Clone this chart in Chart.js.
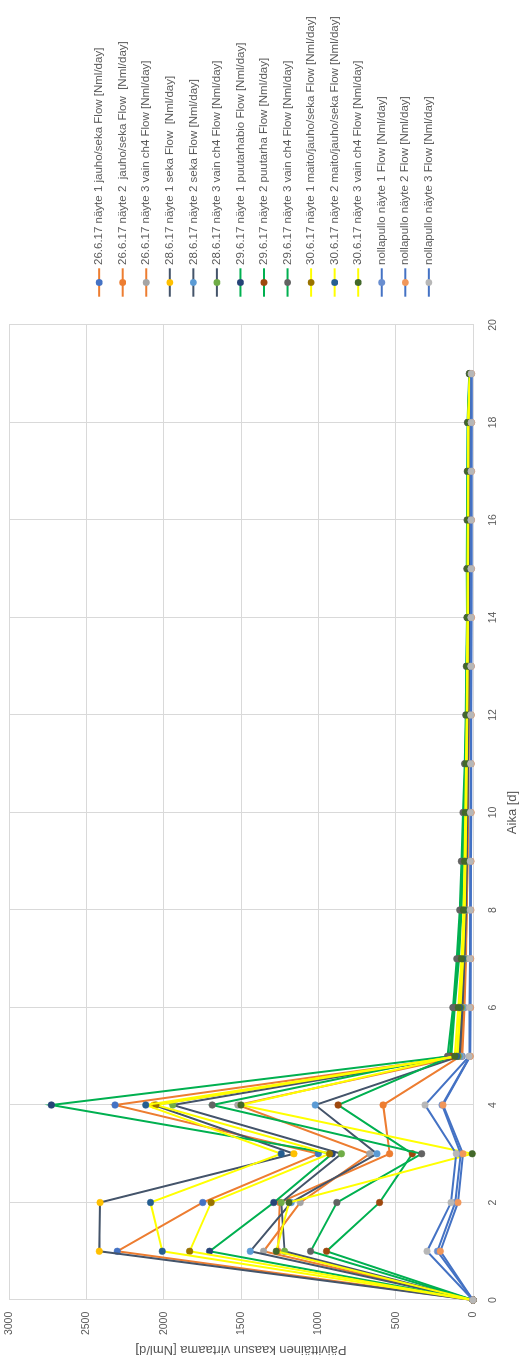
<!DOCTYPE html>
<html>
<head>
<meta charset="utf-8">
<script src="https://cdn.jsdelivr.net/npm/chart.js@4/dist/chart.umd.min.js"></script>
<style>
  html, body { margin: 0; padding: 0; background: #ffffff; overflow: hidden; width: 532px; height: 1371px; }
  /* the chart is laid out landscape and turned a quarter turn counter-clockwise */
  #wrap { position: absolute; left: 0; top: 0; width: 1371px; height: 532px;
          transform-origin: 0 0; transform: translateY(1371px) rotate(-90deg); }
  canvas { display: block; }
</style>
</head>
<body>
<div id="wrap"><canvas id="flowChart" width="1371" height="532"></canvas></div>
<script>
// Measurement days
const days = [0, 1, 2, 3, 4, 5, 6, 7, 8, 9, 10, 11, 12, 13, 14, 15, 16, 17, 18, 19];

// Axis ticks
const xTicks = [0, 2, 4, 6, 8, 10, 12, 14, 16, 18, 20];
const yTicks = [0, 500, 1000, 1500, 2000, 2500, 3000];

const seriesNames = [
  '26.6.17 näyte 1 jauho/seka Flow [Nml/day]',
  '26.6.17 näyte 2  jauho/seka Flow  [Nml/day]',
  '26.6.17 näyte 3 vain ch4 Flow [Nml/day]',
  '28.6.17 näyte 1 seka Flow  [Nml/day]',
  '28.6.17 näyte 2 seka Flow [Nml/day]',
  '28.6.17 näyte 3 vain ch4 Flow [Nml/day]',
  '29.6.17 näyte 1 puutarhabio Flow [Nml/day]',
  '29.6.17 näyte 2 puutarha Flow [Nml/day]',
  '29.6.17 näyte 3 vain ch4 Flow [Nml/day]',
  '30.6.17 näyte 1 maito/jauho/seka Flow [Nml/day]',
  '30.6.17 näyte 2 maito/jauho/seka Flow [Nml/day]',
  '30.6.17 näyte 3 vain ch4 Flow [Nml/day]',
  'nollapullo näyte 1 Flow [Nml/day]',
  'nollapullo näyte 2 Flow [Nml/day]',
  'nollapullo näyte 3 Flow [Nml/day]'
];

// Daily gas flow [Nml/d], one array per sample
const flow_2606_1 = [0, 2300, 1747, 1000, 2314, 70, 55, 45, 40, 35, 32, 30, 28, 26, 25, 24, 23, 22, 21, 18];
const flow_2606_2 = [0, 1260, 1250, 539, 581, 80, 62, 50, 43, 38, 34, 31, 29, 27, 26, 25, 24, 23, 22, 19];
const flow_2606_3 = [0, 1354, 1117, 668, 1520, 75, 60, 48, 41, 36, 33, 30, 28, 26, 25, 24, 23, 22, 21, 18];
const flow_2806_1 = [0, 2416, 2411, 1158, 2063, 90, 72, 58, 48, 42, 38, 34, 31, 29, 27, 26, 25, 24, 23, 20];
const flow_2806_2 = [0, 1440, 1175, 621, 1020, 85, 68, 55, 46, 40, 36, 33, 30, 28, 26, 25, 24, 23, 22, 19];
const flow_2806_3 = [0, 1218, 1240, 851, 1941, 95, 75, 60, 50, 44, 40, 36, 33, 31, 29, 28, 27, 26, 25, 21];
const flow_2906_1 = [0, 1703, 1288, 910, 2726, 150, 125, 95, 78, 68, 58, 50, 44, 40, 37, 36, 35, 34, 33, 22];
const flow_2906_2 = [0, 947, 604, 392, 872, 140, 118, 90, 75, 65, 56, 48, 42, 39, 36, 35, 34, 33, 32, 21];
const flow_2906_3 = [0, 1050, 880, 332, 1686, 165, 130, 105, 86, 75, 65, 54, 47, 43, 39, 40, 38, 37, 36, 24];
const flow_3006_1 = [0, 1832, 1693, 927, 2050, 100, 80, 64, 54, 48, 44, 40, 37, 35, 33, 32, 31, 30, 29, 20];
const flow_3006_2 = [0, 2009, 2085, 1240, 2116, 105, 85, 67, 56, 50, 46, 42, 38, 36, 34, 33, 32, 31, 30, 20];
const flow_3006_3 = [0, 1272, 1190, 5, 1500, 118, 95, 75, 62, 55, 50, 45, 41, 38, 36, 35, 34, 33, 32, 21];
const flow_blank_1 = [0, 230, 115, 80, 200, 20, 18, 17, 16, 15, 14, 13, 13, 12, 12, 11, 11, 11, 10, 10];
const flow_blank_2 = [0, 211, 97, 65, 194, 18, 16, 15, 14, 13, 12, 12, 11, 11, 10, 10, 10, 9, 9, 9];
const flow_blank_3 = [0, 297, 142, 108, 310, 25, 22, 20, 18, 17, 16, 15, 14, 13, 13, 12, 12, 11, 11, 11];

const seriesValues = [
  flow_2606_1, flow_2606_2, flow_2606_3,
  flow_2806_1, flow_2806_2, flow_2806_3,
  flow_2906_1, flow_2906_2, flow_2906_3,
  flow_3006_1, flow_3006_2, flow_3006_3,
  flow_blank_1, flow_blank_2, flow_blank_3
];

// Line colour per sampling date, marker colour per series
const lineColors = [
  '#ED7D31', '#ED7D31', '#ED7D31',
  '#44546A', '#44546A', '#44546A',
  '#00B050', '#00B050', '#00B050',
  '#FFFF00', '#FFFF00', '#FFFF00',
  '#4472C4', '#4472C4', '#4472C4'
];
const markerColors = [
  '#4472C4', '#ED7D31', '#A5A5A5',
  '#FFC000', '#5B9BD5', '#70AD47',
  '#264478', '#9E480E', '#636363',
  '#997300', '#255E91', '#43682B',
  '#698ED0', '#F1975A', '#B7B7B7'
];

const textColor = '#595959';
const gridColor = '#D9D9D9';
const fontFamily = "'Liberation Sans', Arial, sans-serif";
Chart.defaults.font.family = fontFamily;
Chart.defaults.color = textColor;

// Legend drawn as a single column to the right of the plot
const sideLegend = {
  id: 'sideLegend',
  afterDraw(chart) {
    const ctx = chart.ctx;
    const area = chart.chartArea;
    const step = 23.55;
    const sets = chart.data.datasets;
    const firstY = chart.height / 2 - 2 - step * (sets.length - 1) / 2;
    const lineStart = area.right + 28.3;
    const lineEnd = area.right + 56.7;
    const dotX = area.right + 42.5;
    const textX = area.right + 60;
    ctx.save();
    ctx.font = '11.5px ' + fontFamily;
    ctx.textBaseline = 'middle';
    ctx.textAlign = 'left';
    sets.forEach((ds, i) => {
      const y = firstY + i * step;
      ctx.strokeStyle = ds.borderColor;
      ctx.lineWidth = 2;
      ctx.beginPath();
      ctx.moveTo(lineStart, y);
      ctx.lineTo(lineEnd, y);
      ctx.stroke();
      ctx.fillStyle = ds.pointBackgroundColor;
      ctx.beginPath();
      ctx.arc(dotX, y, 3.4, 0, Math.PI * 2);
      ctx.fill();
      ctx.fillStyle = textColor;
      ctx.fillText(ds.label, textX, y);
    });
    ctx.restore();
  }
};

const datasets = seriesNames.map((name, i) => ({
  label: name,
  data: days.map((d, j) => ({ x: d, y: seriesValues[i][j] })),
  borderColor: lineColors[i],
  backgroundColor: markerColors[i],
  pointBackgroundColor: markerColors[i],
  pointBorderColor: markerColors[i],
  pointBorderWidth: 0.5,
  pointRadius: 3.3,
  borderWidth: 2,
  tension: 0,
  clip: false,
  order: seriesNames.length - i
}));

new Chart(document.getElementById('flowChart'), {
  type: 'line',
  data: { datasets },
  options: {
    responsive: false,
    devicePixelRatio: 1,
    animation: false,
    layout: { padding: { top: 9, right: 325, bottom: 0, left: 0 } },
    plugins: { legend: { display: false }, tooltip: { enabled: false } },
    scales: {
      x: {
        type: 'linear',
        min: xTicks[0],
        max: xTicks[xTicks.length - 1],
        afterBuildTicks(scale) { scale.ticks = xTicks.map(v => ({ value: v })); },
        afterFit(scale) { scale.height = 59; scale.paddingLeft = 0; scale.paddingRight = 0; },
        ticks: { padding: 13.7, color: textColor, font: { size: 10.5 }, callback: v => String(v) },
        grid: { color: gridColor, drawTicks: false },
        border: { color: gridColor },
        title: { display: true, text: 'Aika [d]', color: textColor, font: { size: 13 }, padding: { top: 0, bottom: 12.2 } }
      },
      y: {
        type: 'linear',
        min: yTicks[0],
        max: yTicks[yTicks.length - 1],
        afterBuildTicks(scale) { scale.ticks = yTicks.map(v => ({ value: v })); },
        afterFit(scale) { scale.width = 71; scale.paddingTop = 0; scale.paddingBottom = 0; },
        ticks: { padding: 11.7, color: textColor, font: { size: 10.5 }, callback: v => String(v) },
        grid: { color: gridColor, drawTicks: false },
        border: { color: gridColor },
        title: { display: true, text: 'Päivittäinen kaasun virtaama [Nml/d]', color: textColor, font: { size: 13 }, padding: { top: 13.2, bottom: 0 } }
      }
    }
  },
  plugins: [sideLegend]
});
</script>
</body>
</html>
